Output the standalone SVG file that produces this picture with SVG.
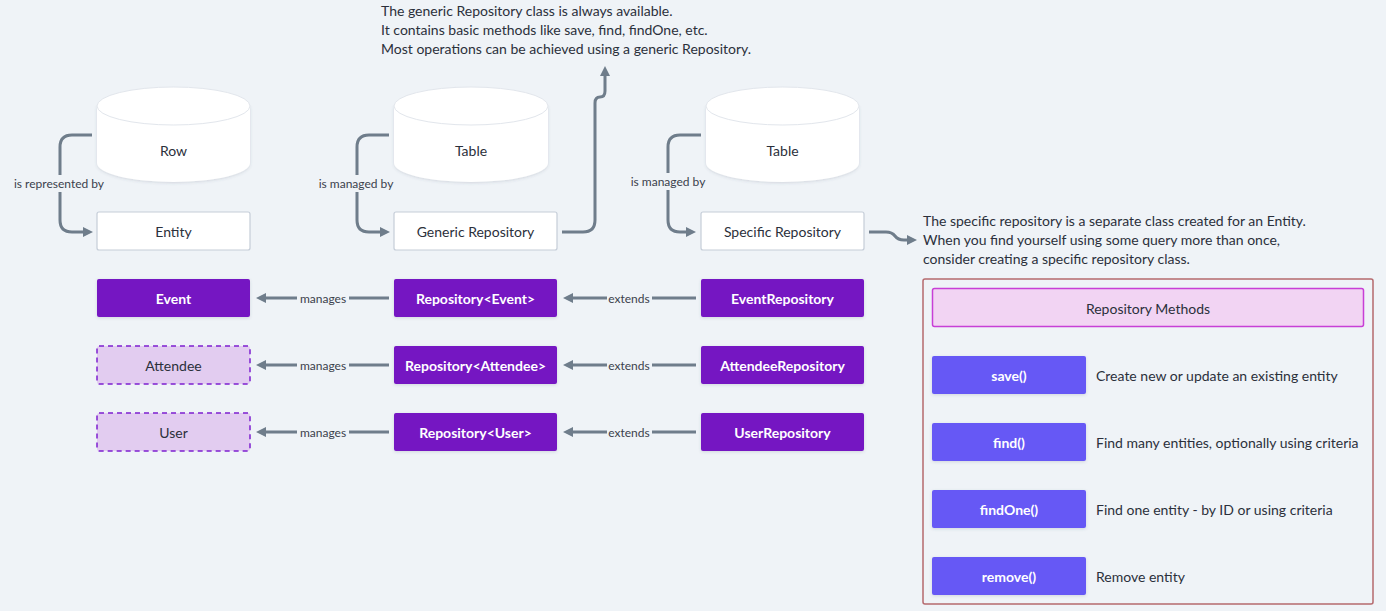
<svg xmlns="http://www.w3.org/2000/svg" width="1386" height="611" viewBox="0 0 1386 611">
<defs>
<filter id="sh" x="-10%" y="-20%" width="120%" height="150%">
<feDropShadow dx="0" dy="1" stdDeviation="1.5" flood-color="#44506a" flood-opacity="0.18"/>
</filter>
<marker id="ah" viewBox="0 0 10 10" markerWidth="10" markerHeight="10" markerUnits="userSpaceOnUse" refX="4" refY="5" orient="auto">
<path d="M0,0 L10,5 L0,10 z" fill="#6f7d8b"/>
</marker>
<style>
text{font-family:Lato,"Liberation Sans",sans-serif;fill:#2b303b}
.n{font-size:14px;text-anchor:middle;dominant-baseline:central}
.w{fill:#ffffff;font-weight:bold}
.lbl{font-size:12px;text-anchor:middle;dominant-baseline:central;fill:#3b414c}
.note{font-size:14px}
.cyl{fill:#ffffff;filter:url(#sh)}
.top{fill:#ffffff;stroke:#e2e6ec;stroke-width:1}
.box{fill:#ffffff;stroke:#c5cdd8;stroke-width:1.2}
.pur{fill:#7512c2;filter:url(#sh)}
.dash{fill:#e2ccf0;stroke:#7d1fd0;stroke-width:1.5;stroke-dasharray:5 4}
.btn{fill:#6659f5;filter:url(#sh)}
.e{fill:none;stroke:#6f7d8b;stroke-width:3;marker-end:url(#ah)}
.bg{fill:#eff3f7}
</style>
</defs>
<rect width="1386" height="611" fill="#eff3f7"/>

<g id="connectors">
<path class="e" d="M92,135 H72 Q60,135 60,147 V220 Q60,232 72,232 H87"/>
<rect class="bg" x="10" y="175" width="100" height="17"/>
<text class="lbl" x="59" y="183.5">is represented by</text>
<path class="e" d="M389,135 H369 Q357,135 357,147 V220 Q357,232 369,232 H384"/>
<rect class="bg" x="315" y="175" width="82" height="17"/>
<text class="lbl" x="356" y="183.5">is managed by</text>
<path class="e" d="M701,135 H680 Q668,135 668,147 V220 Q668,232 680,232 H690"/>
<rect class="bg" x="627" y="173" width="82" height="17"/>
<text class="lbl" x="668" y="181.5">is managed by</text>
<path class="e" d="M562,232 H583 Q595,232 595,220 V103 Q595,97 600,97 Q605,97 605,91 V72"/>
<path class="e" d="M869,232 H886 Q892,232 895,236 Q898,240 904,240 H911"/>
<path class="e" d="M389,298 H262"/>
<rect class="bg" x="297" y="290" width="52" height="16"/>
<text class="lbl" x="323" y="298">manages</text>
<path class="e" d="M389,365 H262"/>
<rect class="bg" x="297" y="357" width="52" height="16"/>
<text class="lbl" x="323" y="365">manages</text>
<path class="e" d="M389,432 H262"/>
<rect class="bg" x="297" y="424" width="52" height="16"/>
<text class="lbl" x="323" y="432">manages</text>
<path class="e" d="M696,298 H569"/>
<rect class="bg" x="607" y="290" width="45" height="16"/>
<text class="lbl" x="629" y="298">extends</text>
<path class="e" d="M696,365 H569"/>
<rect class="bg" x="607" y="357" width="45" height="16"/>
<text class="lbl" x="629" y="365">extends</text>
<path class="e" d="M696,432 H569"/>
<rect class="bg" x="607" y="424" width="45" height="16"/>
<text class="lbl" x="629" y="432">extends</text>
</g>

<g id="row">
<path class="cyl" d="M97,106 V163 A76.5,19 0 0 0 250,163 V106 Z"/>
<ellipse class="top" cx="173.5" cy="106" rx="76.5" ry="19"/>
<text class="n" x="173.5" y="150">Row</text>
</g>
<g id="table1">
<path class="cyl" d="M394,106 V163 A77,19 0 0 0 548,163 V106 Z"/>
<ellipse class="top" cx="471" cy="106" rx="77" ry="19"/>
<text class="n" x="471" y="150">Table</text>
</g>
<g id="table2">
<path class="cyl" d="M706,106 V163 A76.5,19 0 0 0 859,163 V106 Z"/>
<ellipse class="top" cx="782.5" cy="106" rx="76.5" ry="19"/>
<text class="n" x="782.5" y="150">Table</text>
</g>

<g id="entity"><rect class="box" x="97" y="212" width="153" height="38" rx="2"/><text class="n" x="173.5" y="231">Entity</text></g>
<g id="generic-repository"><rect class="box" x="394" y="212" width="163" height="38" rx="2"/><text class="n" x="475.5" y="231">Generic Repository</text></g>
<g id="specific-repository"><rect class="box" x="701" y="212" width="163" height="38" rx="2"/><text class="n" x="782.5" y="231">Specific Repository</text></g>

<g id="event"><rect class="pur" x="97" y="279" width="153" height="38" rx="2"/><text class="n w" x="173.5" y="298">Event</text></g>
<g id="attendee"><rect class="dash" x="97" y="346" width="153" height="38" rx="2"/><text class="n" x="173.5" y="365">Attendee</text></g>
<g id="user"><rect class="dash" x="97" y="413" width="153" height="38" rx="2"/><text class="n" x="173.5" y="432">User</text></g>

<g id="repo-event"><rect class="pur" x="394" y="279" width="163" height="38" rx="2"/><text class="n w" x="475.5" y="298">Repository&lt;Event&gt;</text></g>
<g id="repo-attendee"><rect class="pur" x="394" y="346" width="163" height="38" rx="2"/><text class="n w" x="475.5" y="365">Repository&lt;Attendee&gt;</text></g>
<g id="repo-user"><rect class="pur" x="394" y="413" width="163" height="38" rx="2"/><text class="n w" x="475.5" y="432">Repository&lt;User&gt;</text></g>

<g id="event-repository"><rect class="pur" x="701" y="279" width="163" height="38" rx="2"/><text class="n w" x="782.5" y="298">EventRepository</text></g>
<g id="attendee-repository"><rect class="pur" x="701" y="346" width="163" height="38" rx="2"/><text class="n w" x="782.5" y="365">AttendeeRepository</text></g>
<g id="user-repository"><rect class="pur" x="701" y="413" width="163" height="38" rx="2"/><text class="n w" x="782.5" y="432">UserRepository</text></g>

<g id="note-generic">
<text class="note" x="381" y="16">The generic Repository class is always available.</text>
<text class="note" x="381" y="35">It contains basic methods like save, find, findOne, etc.</text>
<text class="note" x="381" y="54">Most operations can be achieved using a generic Repository.</text>
</g>
<g id="note-specific">
<text class="note" x="923" y="226">The specific repository is a separate class created for an Entity.</text>
<text class="note" x="923" y="245">When you find yourself using some query more than once,</text>
<text class="note" x="923" y="264">consider creating a specific repository class.</text>
</g>

<g id="repository-methods">
<rect x="923" y="279" width="450" height="325" rx="2" fill="none" stroke="#b56a6e" stroke-width="1.5"/>
<rect x="932.5" y="288.5" width="431" height="38" rx="2" fill="#f2d4f3" stroke="#c83fd6" stroke-width="1.5"/>
<text class="n" x="1148" y="308">Repository Methods</text>
</g>
<g id="save"><rect class="btn" x="932" y="356" width="154" height="38" rx="2"/><text class="n w" x="1009" y="375">save()</text><text class="note" x="1096" y="375" dominant-baseline="central">Create new or update an existing entity</text></g>
<g id="find"><rect class="btn" x="932" y="423" width="154" height="38" rx="2"/><text class="n w" x="1009" y="442">find()</text><text class="note" x="1096" y="442" dominant-baseline="central">Find many entities, optionally using criteria</text></g>
<g id="findone"><rect class="btn" x="932" y="490" width="154" height="38" rx="2"/><text class="n w" x="1009" y="509">findOne()</text><text class="note" x="1096" y="509" dominant-baseline="central">Find one entity - by ID or using criteria</text></g>
<g id="remove"><rect class="btn" x="932" y="557" width="154" height="38" rx="2"/><text class="n w" x="1009" y="576">remove()</text><text class="note" x="1096" y="576" dominant-baseline="central">Remove entity</text></g>
</svg>
